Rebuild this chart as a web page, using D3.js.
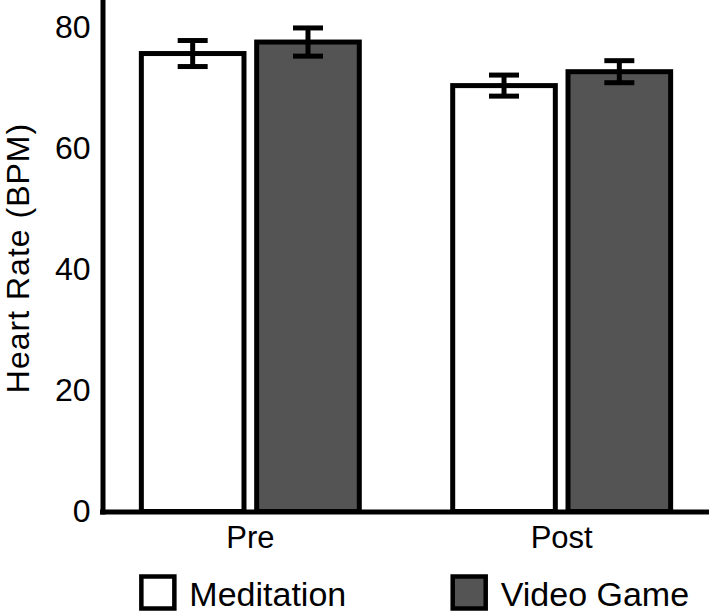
<!DOCTYPE html>
<html>
<head>
<meta charset="utf-8">
<script src="https://cdn.jsdelivr.net/npm/d3@7"></script>
<style>
  html, body { margin: 0; padding: 0; background: #fff; }
  svg { display: block; font-family: "Liberation Sans", Arial, Helvetica, sans-serif; }
</style>
</head>
<body>
<div id="chart"></div>
<script>
const groups = ["Pre", "Post"];
const series = ["Meditation", "Video Game"];
const means = [
  [75.7, 77.6],   // Pre: meditation, video game
  [70.4, 72.7]    // Post
];
const errors = [
  [2.15, 2.33],
  [1.74, 1.82]
];
const yTicks = [0, 20, 40, 60, 80];
const fills = ["#ffffff", "#545454"];

const width = 709, height = 613;

const svg = d3.select("#chart")
  .append("svg")
  .attr("width", width)
  .attr("height", height);

const y = d3.scaleLinear().domain([0, 84.5]).range([511.5, 0.3]);

const x0 = d3.scaleBand()
  .domain(groups)
  .range([104, 708])
  .paddingInner(0.3)
  .paddingOuter(0.12);

const x1 = d3.scaleBand()
  .domain(series)
  .range([0, x0.bandwidth()])
  .paddingInner(0.11);

const data = groups.flatMap((g, gi) => series.map((s, si) => ({
  group: g, series: s, si: si, value: means[gi][si], err: errors[gi][si]
})));

// bars
const bar = svg.append("g")
  .selectAll("g")
  .data(data)
  .join("g")
  .attr("transform", (d) => `translate(${x0(d.group) + x1(d.series)},0)`);

bar.append("rect")
  .attr("x", 0)
  .attr("y", (d) => y(d.value))
  .attr("width", x1.bandwidth())
  .attr("height", (d) => y(0) - y(d.value))
  .attr("fill", (d) => fills[d.si])
  .attr("stroke", "#000")
  .attr("stroke-width", 5);

// error bars
const capW = 30;
const cx = x1.bandwidth() / 2;
bar.append("line")
  .attr("x1", cx).attr("x2", cx)
  .attr("y1", (d) => y(d.value + d.err))
  .attr("y2", (d) => y(d.value - d.err))
  .attr("stroke", "#000")
  .attr("stroke-width", 5);
bar.append("line")
  .attr("x1", cx - capW / 2).attr("x2", cx + capW / 2)
  .attr("y1", (d) => y(d.value + d.err))
  .attr("y2", (d) => y(d.value + d.err))
  .attr("stroke", "#000")
  .attr("stroke-width", 5);
bar.append("line")
  .attr("x1", cx - capW / 2).attr("x2", cx + capW / 2)
  .attr("y1", (d) => y(d.value - d.err))
  .attr("y2", (d) => y(d.value - d.err))
  .attr("stroke", "#000")
  .attr("stroke-width", 5);

// axes
const yAxis = svg.append("g")
  .attr("transform", "translate(102.5,0)")
  .call(d3.axisLeft(y).tickValues(yTicks).tickSize(0).tickSizeOuter(0).tickPadding(12));
yAxis.select(".domain").attr("stroke", "#000").attr("stroke-width", 5).attr("stroke-linecap", "square");
yAxis.selectAll("text").attr("font-size", 32).attr("font-family", null).attr("fill", "#000");

const xAxis = svg.append("g")
  .attr("transform", "translate(0,512)")
  .call(d3.axisBottom(x0).tickSize(0).tickSizeOuter(0).tickPadding(14));
xAxis.select(".domain")
  .attr("d", `M100,0H${width}`)
  .attr("stroke", "#000").attr("stroke-width", 5);
xAxis.selectAll("text").attr("font-size", 31).attr("font-family", null).attr("fill", "#000");

// y title
svg.append("text")
  .attr("transform", "translate(29,258) rotate(-90)")
  .attr("text-anchor", "middle")
  .attr("font-size", 32)
  .attr("letter-spacing", 1)
  .attr("fill", "#000")
  .text("Heart Rate (BPM)");

// legend: each key sits under the left bar of its group
const legend = svg.append("g")
  .selectAll("g")
  .data(series)
  .join("g")
  .attr("transform", (d, i) => `translate(${x0(groups[i])},576.5)`);

legend.append("rect")
  .attr("x", 0)
  .attr("y", 0)
  .attr("width", 33)
  .attr("height", 32)
  .attr("fill", (d, i) => fills[i])
  .attr("stroke", "#000")
  .attr("stroke-width", 4.5);

legend.append("text")
  .attr("x", 48)
  .attr("y", 29.5)
  .attr("font-size", 34)
  .attr("fill", "#000")
  .text((d) => d);
</script>
</body>
</html>
